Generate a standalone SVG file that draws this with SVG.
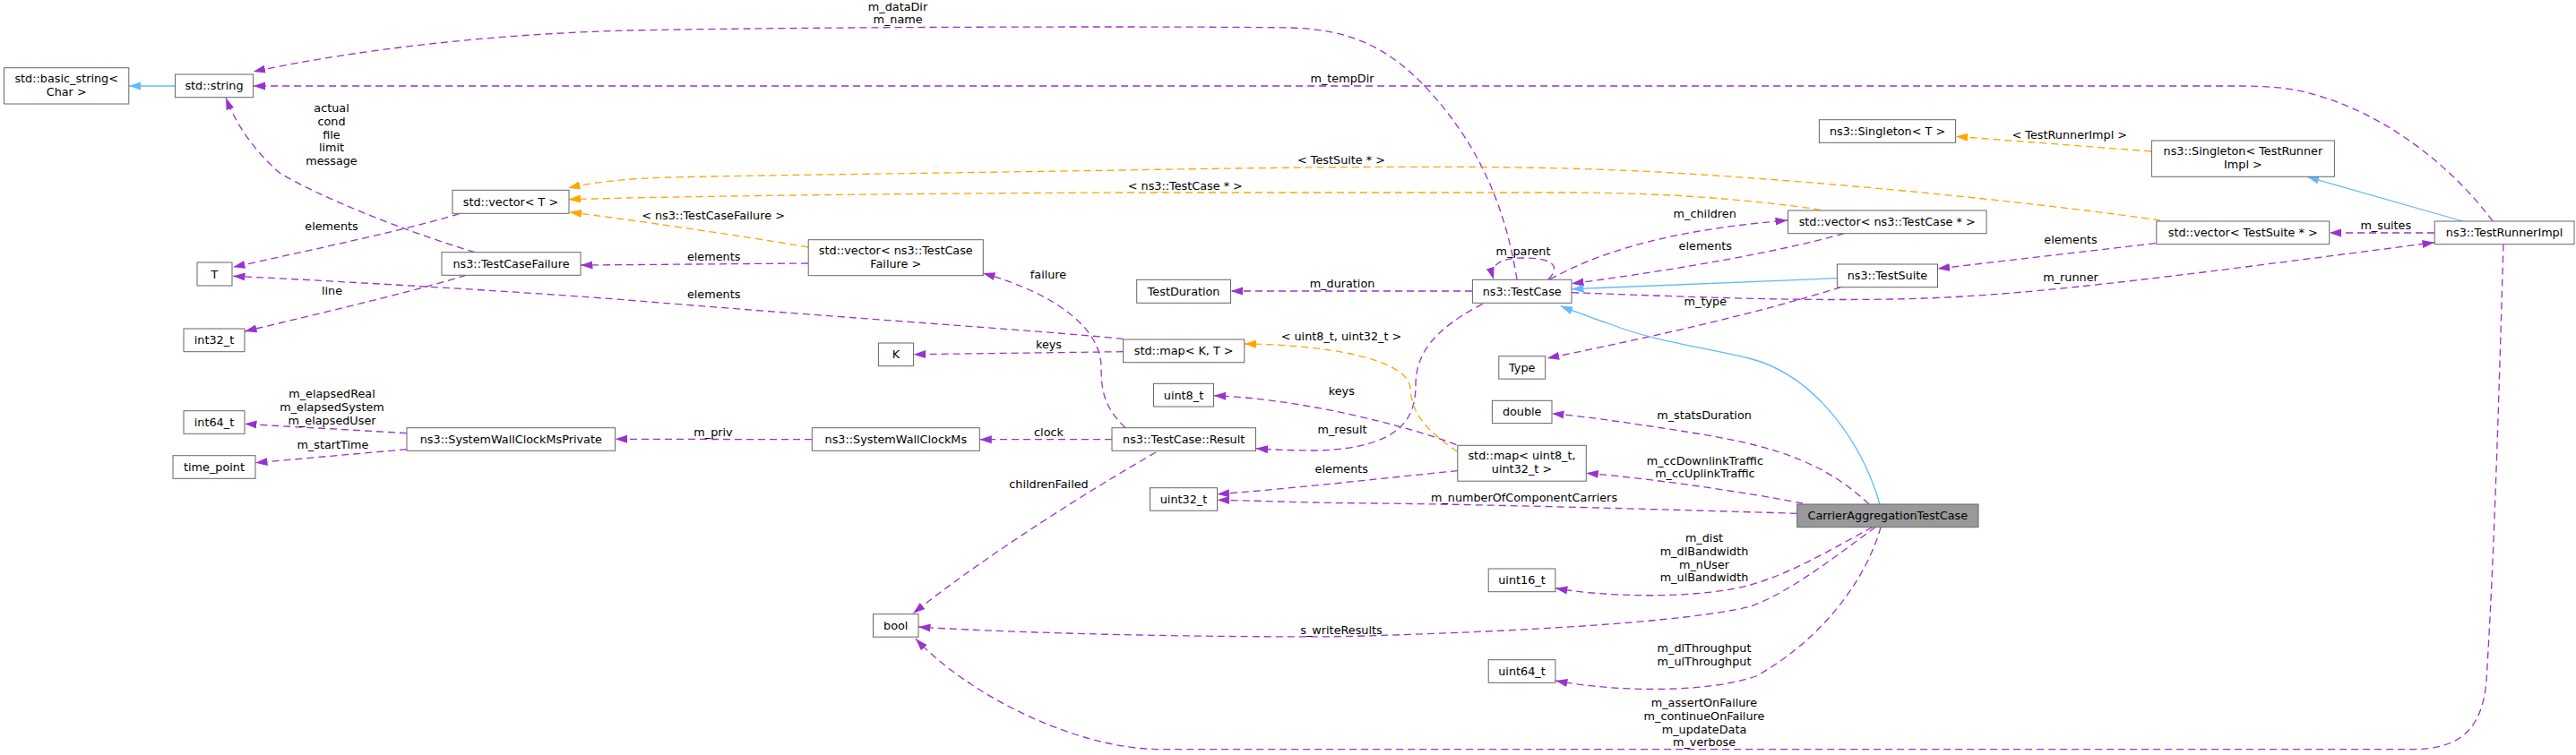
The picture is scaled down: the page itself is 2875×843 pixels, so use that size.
<svg xmlns="http://www.w3.org/2000/svg" width="2875" height="843" viewBox="0 0 2875 843">
<style>
text{font-family:"DejaVu Sans","Liberation Sans",sans-serif;font-size:12.8px;text-anchor:middle;fill:#000}
.n rect{fill:#fff;stroke:#666;stroke-width:1}
.n.main rect{fill:#999}
.u{fill:none;stroke:#9a32cd;stroke-width:1.3;stroke-dasharray:8,5;marker-end:url(#ap)}
.o{fill:none;stroke:#ffa500;stroke-width:1.3;stroke-dasharray:8,5;marker-end:url(#ao)}
.b{fill:none;stroke:#63b8ff;stroke-width:1.3;marker-end:url(#ab)}
</style>
<defs>
<marker id="ap" markerUnits="userSpaceOnUse" markerWidth="14" markerHeight="10" viewBox="0 0 14 10" refX="13.5" refY="5" orient="auto"><path d="M0,0.5L13.5,5L0,9.5z" fill="#9a32cd"/></marker>
<marker id="ao" markerUnits="userSpaceOnUse" markerWidth="14" markerHeight="10" viewBox="0 0 14 10" refX="13.5" refY="5" orient="auto"><path d="M0,0.5L13.5,5L0,9.5z" fill="#ffa500"/></marker>
<marker id="ab" markerUnits="userSpaceOnUse" markerWidth="14" markerHeight="10" viewBox="0 0 14 10" refX="13.5" refY="5" orient="auto"><path d="M0,0.5L13.5,5L0,9.5z" fill="#63b8ff"/></marker>
</defs>
<rect width="2875" height="843" fill="#fff"/>
<g id="connectors">
<g id="e1"><path class="b" d="M195.5,96L143.8,96"/></g>
<g id="e2"><path class="u" d="M1693,312C1680,230 1650,160 1590,96C1550,55 1510,33 1441,31C1300,29 900,30 700,34C550,38 400,55 282.6,80"/><text x="1002" y="12">m_dataDir</text><text x="1002" y="26">m_name</text></g>
<g id="e3"><path class="u" d="M2782,247C2740,190 2660,120 2560,100C2540,97 2520,96 2500,96L282.6,96"/><text x="1498" y="92">m_tempDir</text></g>
<g id="e4"><path class="u" d="M530,281.7C446,256 357,220 312,193C280,165 262,135 252,109"/><text x="370" y="125">actual</text><text x="370" y="140">cond</text><text x="370" y="155">file</text><text x="370" y="169">limit</text><text x="370" y="184">message</text></g>
<g id="e5"><path class="o" d="M2410.8,246C2300,230 2100,208 1900,195C1750,185 1600,184 1250,190C1000,194 830,196 745,198C690,200 660,204 634,210"/><text x="1497" y="183">&lt; TestSuite * &gt;</text></g>
<g id="e6"><path class="o" d="M2032,234.3C1950,222 1850,215 1750,215L1250,215C1000,216 800,219 700,221C670,222 650,222 634.5,222.7"/><text x="1322.8" y="212">&lt; ns3::TestCase * &gt;</text></g>
<g id="e7"><path class="o" d="M902,276C820,262 700,245 635.6,236.7"/><text x="796" y="245">&lt; ns3::TestCaseFailure &gt;</text></g>
<g id="e8"><path class="u" d="M512.5,238.7C460,255 357,277 260,298.3"/><text x="370" y="256.5">elements</text></g>
<g id="e9"><path class="u" d="M902,294L648,296"/><text x="796.6" y="291">elements</text></g>
<g id="e10"><path class="u" d="M1253.6,378.3C1146,368 968,357 700,335C600,327 400,315 260,308.3"/><text x="796.6" y="333">elements</text></g>
<g id="e11"><path class="u" d="M520,307.3C480,320 400,340 273,370"/><text x="370.5" y="329">line</text></g>
<g id="e12"><path class="u" d="M1253.6,392.7L1019.6,395.7"/><text x="1170.5" y="389">keys</text></g>
<g id="e13"><path class="u" d="M1256,477.7C1232,455 1229,435 1229,410C1229,370 1185,330 1097,305"/><text x="1170" y="310.5">failure</text></g>
<g id="e14"><path class="u" d="M454,483.7L273,473.3"/><text x="370.5" y="444">m_elapsedReal</text><text x="370.5" y="459">m_elapsedSystem</text><text x="370.5" y="473.5">m_elapsedUser</text></g>
<g id="e15"><path class="u" d="M454,501.7L285,516.7"/><text x="371.4" y="501">m_startTime</text></g>
<g id="e16"><path class="u" d="M906,490.7L686.6,490.3"/><text x="796" y="486.5">m_priv</text></g>
<g id="e17"><path class="u" d="M1241,490.7L1093.3,490.7"/><text x="1170.5" y="487">clock</text></g>
<g id="e18"><path class="u" d="M1290,505C1220,545 1100,620 1019,685"/><text x="1170.5" y="544.5">childrenFailed</text></g>
<g id="e19"><path class="u" d="M1643,325L1373.7,325"/><text x="1498" y="321">m_duration</text></g>
<g id="e20"><path class="u" d="M1728,312C1740,300 1738,288 1700,288C1675,288 1662,295 1667,312"/><text x="1700" y="285">m_parent</text></g>
<g id="e21"><path class="u" d="M1730,311.7C1780,285 1850,258 1995,246"/><text x="1902.7" y="243">m_children</text></g>
<g id="e22"><path class="u" d="M2058,260.7C1990,280 1880,300 1754,316.7"/><text x="1903.3" y="279">elements</text></g>
<g id="e23"><path class="b" d="M2050.4,310.7L1754,322.7"/></g>
<g id="e24"><path class="u" d="M2405.8,271.7L2162.5,300"/><text x="2311" y="272">elements</text></g>
<g id="e25"><path class="u" d="M1754,326.7C1900,332 2000,336 2112,334C2250,332 2400,312 2717,270.7"/><text x="2311" y="313.5">m_runner</text></g>
<g id="e26"><path class="u" d="M2054.5,320.7C1960,350 1850,375 1726.7,400"/><text x="1903.3" y="341">m_type</text></g>
<g id="e27"><path class="u" d="M1654.6,339.3C1600,368 1580,395 1580,430C1580,470 1560,500 1470,503C1440,503 1420,502 1401.5,500.7"/><text x="1498" y="484">m_result</text></g>
<g id="e28"><path class="o" d="M1626.8,504.3C1590,480 1575,460 1574,433C1570,400 1480,385 1388.6,384"/><text x="1497" y="380">&lt; uint8_t, uint32_t &gt;</text></g>
<g id="e29"><path class="u" d="M1625.5,496.7C1570,475 1450,445 1354.6,441.7"/><text x="1497.3" y="441">keys</text></g>
<g id="e30"><path class="u" d="M1626.8,525.7C1550,533 1450,545 1358.5,551.7"/><text x="1497.3" y="528">elements</text></g>
<g id="e31"><path class="u" d="M2086,563C2040,520 1990,500 1900,485C1830,474 1780,466 1732,461.7"/><text x="1902" y="468">m_statsDuration</text></g>
<g id="e32"><path class="u" d="M2012,562C1950,550 1850,535 1770.3,528.3"/><text x="1902.9" y="519">m_ccDownlinkTraffic</text><text x="1902.9" y="533">m_ccUplinkTraffic</text></g>
<g id="e33"><path class="u" d="M2005.7,573.3C1800,567 1600,562 1500,561.7C1450,561 1400,559 1358.5,558.3"/><text x="1701" y="560">m_numberOfComponentCarriers</text></g>
<g id="e34"><path class="b" d="M2098,563C2080,500 2030,420 1952,400C1900,387 1850,382 1800,363C1780,356 1760,349 1741.7,341.7"/></g>
<g id="e35"><path class="u" d="M2089.5,588.7C2050,610 2000,640 1954,653C1900,668 1800,668 1735.9,656.7"/><text x="1902" y="604.5">m_dist</text><text x="1902" y="619.5">m_dlBandwidth</text><text x="1902" y="634.5">m_nUser</text><text x="1902" y="649">m_ulBandwidth</text></g>
<g id="e36"><path class="u" d="M2093,588.7C2050,620 2000,660 1954,677C1880,695 1700,705 1500,710.7C1300,712 1100,705 1025,700"/><text x="1497" y="708">s_writeResults</text></g>
<g id="e37"><path class="u" d="M2099,588.7C2085,640 2040,710 1960,755C1900,775 1800,772 1735.9,760"/><text x="1902" y="728">m_dlThroughput</text><text x="1902" y="743">m_ulThroughput</text></g>
<g id="e38"><path class="u" d="M2794,272.7C2790,400 2785,600 2775,760C2770,820 2740,836.7 2690,836.7L1296,836.7C1200,836.7 1080,775 1022,713.3"/><text x="1902" y="789">m_assertOnFailure</text><text x="1902" y="804">m_continueOnFailure</text><text x="1902" y="819">m_updateData</text><text x="1902" y="833">m_verbose</text></g>
<g id="e39"><path class="o" d="M2401,169L2182.6,152.3"/><text x="2309.8" y="155">&lt; TestRunnerImpl &gt;</text></g>
<g id="e40"><path class="b" d="M2748.6,247L2574.7,197.3"/></g>
<g id="e41"><path class="u" d="M2717,260L2599.7,260"/><text x="2662.8" y="256">m_suites</text></g>
</g>
<g id="n_basic_string" class="n"><rect x="4.5" y="75.7" width="139.3" height="40.3"/><text x="74.2" y="92.2">std::basic_string&lt;</text><text x="74.2" y="106.8">Char &gt;</text></g>
<g id="n_string" class="n"><rect x="195.5" y="83" width="87.1" height="25.7"/><text x="239" y="100.3">std::string</text></g>
<g id="n_vectorT" class="n"><rect x="505" y="212.3" width="130" height="26"/><text x="570" y="229.8">std::vector&lt; T &gt;</text></g>
<g id="n_TestCaseFailure" class="n"><rect x="493" y="281.7" width="155" height="25.6"/><text x="570.5" y="299">ns3::TestCaseFailure</text></g>
<g id="n_T" class="n"><rect x="220" y="293" width="39" height="26"/><text x="239.5" y="310.5">T</text></g>
<g id="n_int32" class="n"><rect x="205" y="367" width="68" height="25.7"/><text x="239" y="384.4">int32_t</text></g>
<g id="n_int64" class="n"><rect x="205" y="458.7" width="68" height="25.6"/><text x="239" y="476">int64_t</text></g>
<g id="n_time_point" class="n"><rect x="193" y="508.7" width="92" height="25.6"/><text x="239" y="526">time_point</text></g>
<g id="n_SWCMP" class="n"><rect x="454" y="477.7" width="232.6" height="25.6"/><text x="570.3" y="495">ns3::SystemWallClockMsPrivate</text></g>
<g id="n_vecTCF" class="n"><rect x="902.2" y="267.7" width="195.1" height="40"/><text x="999.8" y="283.8">std::vector&lt; ns3::TestCase</text><text x="999.8" y="298.8">Failure &gt;</text></g>
<g id="n_K" class="n"><rect x="980.4" y="383" width="39.2" height="25.7"/><text x="1000" y="400.4">K</text></g>
<g id="n_mapKT" class="n"><rect x="1253.6" y="379" width="135.2" height="25.7"/><text x="1321.2" y="396.4">std::map&lt; K, T &gt;</text></g>
<g id="n_TestDuration" class="n"><rect x="1268.7" y="312.3" width="104.8" height="26"/><text x="1321.1" y="329.8">TestDuration</text></g>
<g id="n_uint8" class="n"><rect x="1287.5" y="428.3" width="67" height="25.7"/><text x="1321" y="445.7">uint8_t</text></g>
<g id="n_SWCM" class="n"><rect x="906.3" y="477.7" width="187" height="25.6"/><text x="999.8" y="495">ns3::SystemWallClockMs</text></g>
<g id="n_Result" class="n"><rect x="1241" y="477.7" width="160.5" height="25.6"/><text x="1321.2" y="495">ns3::TestCase::Result</text></g>
<g id="n_uint32" class="n"><rect x="1283.5" y="544.7" width="75" height="25.5"/><text x="1321" y="561.9">uint32_t</text></g>
<g id="n_bool" class="n"><rect x="974.5" y="685.7" width="50.5" height="25.5"/><text x="999.7" y="702.9">bool</text></g>
<g id="n_TestCase" class="n"><rect x="1643.4" y="312.3" width="110.6" height="26"/><text x="1698.7" y="329.8">ns3::TestCase</text></g>
<g id="n_Type" class="n"><rect x="1672.8" y="397.7" width="51.9" height="25.4"/><text x="1698.7" y="414.9">Type</text></g>
<g id="n_double" class="n"><rect x="1665.4" y="447.3" width="66.6" height="25.3"/><text x="1698.7" y="464.4">double</text></g>
<g id="n_mapU8U32" class="n"><rect x="1626.8" y="497.3" width="143.5" height="39.9"/><text x="1698.5" y="512.8">std::map&lt; uint8_t,</text><text x="1698.5" y="527.8">uint32_t &gt;</text></g>
<g id="n_uint16" class="n"><rect x="1661.2" y="635" width="74.7" height="25.7"/><text x="1698.5" y="652.4">uint16_t</text></g>
<g id="n_uint64" class="n"><rect x="1661.2" y="736.7" width="74.7" height="25.6"/><text x="1698.5" y="754">uint64_t</text></g>
<g id="n_CATC" class="n main"><rect x="2005.7" y="563" width="202.3" height="25.7"/><text x="2106.8" y="580.3">CarrierAggregationTestCase</text></g>
<g id="n_vecTestCase" class="n"><rect x="1995.5" y="235" width="221.5" height="25.7"/><text x="2106.2" y="252.4">std::vector&lt; ns3::TestCase * &gt;</text></g>
<g id="n_TestSuite" class="n"><rect x="2050.4" y="295" width="112.1" height="25.7"/><text x="2106.4" y="312.4">ns3::TestSuite</text></g>
<g id="n_SingletonT" class="n"><rect x="2030.4" y="133.7" width="152.2" height="25.6"/><text x="2106.5" y="151">ns3::Singleton&lt; T &gt;</text></g>
<g id="n_SingletonTR" class="n"><rect x="2401.4" y="157" width="204" height="40.3"/><text x="2503.4" y="173.2">ns3::Singleton&lt; TestRunner</text><text x="2503.4" y="188.2">Impl &gt;</text></g>
<g id="n_vecTestSuite" class="n"><rect x="2406.8" y="247" width="192.9" height="25.7"/><text x="2503.2" y="264.4">std::vector&lt; TestSuite * &gt;</text></g>
<g id="n_TRI" class="n"><rect x="2717.2" y="247" width="155.8" height="25.7"/><text x="2795.1" y="264.4">ns3::TestRunnerImpl</text></g>
</svg>
